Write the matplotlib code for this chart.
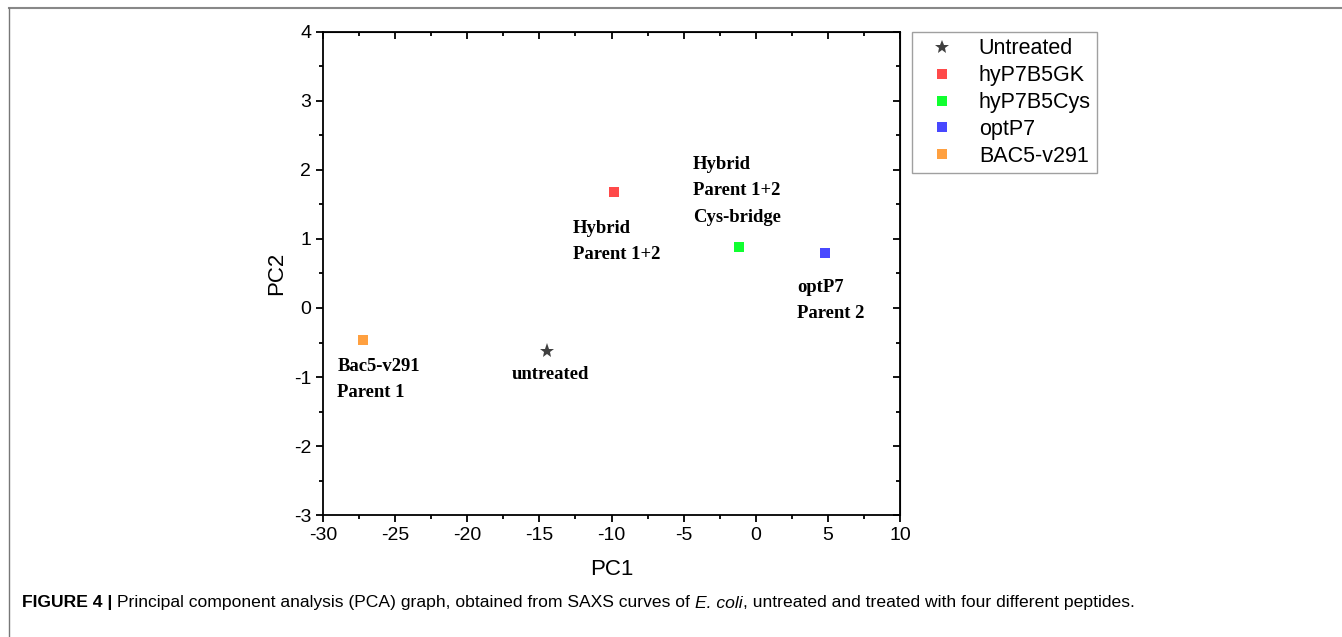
import matplotlib
matplotlib.use('Agg')
import matplotlib.pyplot as plt
from matplotlib.lines import Line2D
from matplotlib.ticker import MultipleLocator

# PCA scores
names = ['Untreated', 'hyP7B5GK', 'hyP7B5Cys', 'optP7', 'BAC5-v291']
pc1 = [-14.5, -9.8, -1.2, 4.8, -27.2]
pc2 = [-0.63, 1.68, 0.88, 0.80, -0.47]
markers = ['*', 's', 's', 's', 's']
colors = ['#404040', '#ff4a4a', '#10ff30', '#4848ff', '#ffa040']

notes = ['Bac5-v291\nParent 1', 'untreated', 'Hybrid\nParent 1+2',
         'Hybrid\nParent 1+2\nCys-bridge', 'optP7\nParent 2']
note_x = [-29.0, -16.9, -12.7, -4.35, 2.85]
note_y = [-1.04, -0.96, 0.96, 1.70, 0.11]

plt.rcParams['font.family'] = ['Liberation Sans', 'DejaVu Sans']
plt.rcParams['axes.unicode_minus'] = False

fig = plt.figure(figsize=(13.42, 6.37), dpi=100)
ax = fig.add_axes([0.2407, 0.1915, 0.4300, 0.7583])

for x, y, m, c, n in zip(pc1, pc2, markers, colors, names):
    ms = 11 if m == '*' else 7
    ax.plot([x], [y], linestyle='none', marker=m, color=c, markersize=ms,
            markeredgewidth=0, label=n)

for t, x, y in zip(notes, note_x, note_y):
    ax.text(x, y, t, ha='left', va='center', fontsize=13.4, fontweight='bold',
            family='Liberation Serif', linespacing=1.72)

ax.set_xlim(-30, 10)
ax.set_ylim(-3, 4)
ax.xaxis.set_major_locator(MultipleLocator(5))
ax.xaxis.set_minor_locator(MultipleLocator(2.5))
ax.yaxis.set_major_locator(MultipleLocator(1))
ax.yaxis.set_minor_locator(MultipleLocator(0.5))
ax.tick_params(which='major', direction='out', length=5, width=1.3, labelsize=14)
ax.tick_params(which='minor', direction='out', length=3, width=1.3)
for s in ax.spines.values():
    s.set_linewidth(1.3)

# mirrored ticks pointing into the plot on top and right
top = ax.secondary_xaxis('top')
top.xaxis.set_major_locator(MultipleLocator(5))
top.xaxis.set_minor_locator(MultipleLocator(2.5))
top.tick_params(which='major', direction='in', length=5, width=1.3, labeltop=False)
top.tick_params(which='minor', direction='in', length=3, width=1.3)
right = ax.secondary_yaxis('right')
right.yaxis.set_major_locator(MultipleLocator(1))
right.yaxis.set_minor_locator(MultipleLocator(0.5))
right.tick_params(which='major', direction='in', length=5, width=1.3, labelright=False)
right.tick_params(which='minor', direction='in', length=3, width=1.3)

ax.set_xlabel('PC1', fontsize=16, labelpad=11)
ax.set_ylabel('PC2', fontsize=16, labelpad=5)

leg = ax.legend(loc='upper left', bbox_to_anchor=(1.0208, 1.0), borderaxespad=0,
                fontsize=15.5, frameon=True, fancybox=False, labelspacing=0.27,
                handletextpad=0.6, borderpad=0.3, handlelength=2.2, markerscale=0.95)
leg.get_frame().set_edgecolor('#888888')
leg.get_frame().set_linewidth(1.0)

# page frame lines
fig.add_artist(Line2D([9 / 1342, 1], [1 - 8 / 637, 1 - 8 / 637], color='#888888', lw=1.5))
fig.add_artist(Line2D([9 / 1342, 9 / 1342], [0, 1 - 8 / 637], color='#777777', lw=1.0))

# caption built from pieces
renderer = fig.canvas.get_renderer()
pieces = [('FIGURE 4 | ', 'bold', 'normal'),
          ('Principal component analysis (PCA) graph, obtained from SAXS curves of ', 'normal', 'normal'),
          ('E. coli', 'normal', 'italic'),
          (', untreated and treated with four different peptides.', 'normal', 'normal')]
cx = 22
for txt, w, st in pieces:
    t = fig.text(cx / 1342, 1 - 603 / 637, txt, fontsize=12.6, fontweight=w, fontstyle=st,
                 family=['Liberation Sans Narrow', 'Liberation Sans'], va='center', ha='left')
    cx += t.get_window_extent(renderer).width

fig.savefig('out.png', dpi=100)
